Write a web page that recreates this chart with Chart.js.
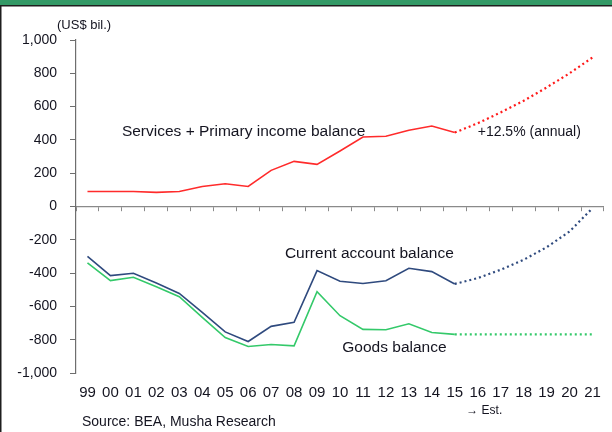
<!DOCTYPE html>
<html>
<head>
<meta charset="utf-8">
<script src="https://cdn.jsdelivr.net/npm/chart.js@4/dist/chart.umd.min.js"></script>
<style>
html,body{margin:0;padding:0;background:#fff;}
canvas{display:block;}
</style>
</head>
<body>
<canvas id="c" width="612" height="432"></canvas>
<script>
// ---- data ----
const categories = ['99','00','01','02','03','04','05','06','07','08','09','10','11','12','13','14','15','16','17','18','19','20','21'];
const servicesActual = [90,90,90,85,90,120,137,120,217,271,253,333,417,422,458,483,444];
const servicesEst = [444,500,565,635,715,800,895];
const currentActual = [-299,-415,-401,-460,-522,-636,-753,-811,-720,-696,-385,-449,-462,-446,-371,-391,-465];
const currentEst = [-465,-430,-380,-320,-245,-150,-10];
const goodsActual = [-339,-445,-425,-482,-542,-666,-787,-841,-829,-837,-512,-656,-738,-740,-704,-757,-768];
const goodsEst = [-768,-768,-768,-768,-768,-768,-768];
const yTicks = [-1000,-800,-600,-400,-200,0,200,400,600,800,1000];

const FONT = '"Liberation Sans", Arial, sans-serif';
const TXT = '#141420';

function padActual(a){ return a.concat(new Array(categories.length - a.length).fill(null)); }
function padEst(a){ return new Array(categories.length - a.length).fill(null).concat(a); }

const RED = '#ff2b2b', BLUE = '#2f4a7e', GREEN = '#34c96a';

const annotations = {
  id: 'annotations',
  beforeDraw(chart){
    const ctx = chart.ctx;
    ctx.save();
    ctx.fillStyle = '#fff';
    ctx.fillRect(0,0,chart.width,chart.height);
    ctx.restore();
  },
  afterDraw(chart){
    const ctx = chart.ctx, xs = chart.scales.x, ys = chart.scales.y;
    ctx.save();
    // header band and frame
    ctx.fillStyle = '#339966';
    ctx.fillRect(0,0,chart.width,5);
    ctx.fillStyle = '#1e1e1e';
    ctx.fillRect(0,5,chart.width,1.5);
    ctx.fillRect(0,5,1.5,chart.height-5);

    ctx.fillStyle = TXT;
    ctx.textBaseline = 'middle';
    ctx.textAlign = 'left';
    ctx.font = '15.5px ' + FONT;
    ctx.fillText('Services + Primary income balance', xs.getPixelForValue(1.5), ys.getPixelForValue(450));
    ctx.fillText('Current account balance', xs.getPixelForValue(8.6), ys.getPixelForValue(-282));
    ctx.fillText('Goods balance', xs.getPixelForValue(11.1), ys.getPixelForValue(-847));
    ctx.font = '14px ' + FONT;
    ctx.fillText('+12.5% (annual)', xs.getPixelForValue(17.0), ys.getPixelForValue(446));

    ctx.font = '13px ' + FONT;
    ctx.fillText('(US$ bil.)', 57, 25);
    ctx.font = '12px ' + FONT;
    ctx.fillText('\u2192 Est.', xs.getPixelForValue(16.5), chart.chartArea.bottom + 38);
    ctx.font = '14px ' + FONT;
    ctx.fillText('Source: BEA, Musha Research', 82, 422);
    ctx.restore();
  }
};

const solid = (label, data, color) => ({
  label, data, borderColor: color, backgroundColor: color,
  borderWidth: 1.6, pointRadius: 0, tension: 0, spanGaps: false, xAxisID: 'x', yAxisID: 'y'
});
const dotted = (label, data, color) => ({
  label, data, borderColor: color, backgroundColor: color,
  borderWidth: 2.2, borderDash: [2,3], borderCapStyle: 'butt',
  pointRadius: 0, tension: 0, spanGaps: false, xAxisID: 'x', yAxisID: 'y'
});

new Chart(document.getElementById('c'), {
  type: 'line',
  data: {
    labels: categories,
    datasets: [
      solid('Services + Primary income balance', padActual(servicesActual), RED),
      dotted('Services + Primary income balance (est.)', padEst(servicesEst), '#ff1a1a'),
      solid('Current account balance', padActual(currentActual), BLUE),
      dotted('Current account balance (est.)', padEst(currentEst), BLUE),
      solid('Goods balance', padActual(goodsActual), GREEN),
      dotted('Goods balance (est.)', padEst(goodsEst), GREEN)
    ]
  },
  options: {
    responsive: false,
    animation: false,
    devicePixelRatio: 1,
    layout: { padding: { top: 40, right: 7, bottom: 0, left: 0 } },
    plugins: { legend: { display: false }, tooltip: { enabled: false }, title: { display: false } },
    scales: {
      x: {
        type: 'category',
        position: 'bottom',
        offset: true,
        grid: { display: false, drawTicks: false },
        border: { display: false },
        ticks: { color: TXT, font: { family: FONT, size: 15 }, padding: 11, maxRotation: 0, autoSkip: false },
        afterFit(s){ s.height = 59; }
      },
      x0: {
        type: 'category',
        labels: categories,
        position: { y: 0 },
        offset: true,
        grid: { offset: true, drawOnChartArea: false, drawTicks: true, tickLength: 4, color: '#8a8a8a', lineWidth: 1 },
        border: { display: true, color: '#8a8a8a', width: 1.2 },
        ticks: { display: false, autoSkip: false }
      },
      y: {
        min: -1000, max: 1000,
        afterBuildTicks(s){ s.ticks = yTicks.map(v => ({ value: v })); },
        grid: { drawOnChartArea: false, drawTicks: true, tickLength: 6, color: '#6e6e6e' },
        border: { display: true, color: '#6e6e6e', width: 1.2 },
        ticks: {
          color: TXT, font: { family: FONT, size: 14 }, padding: 13,
          callback: v => v.toLocaleString('en-US')
        },
        afterFit(s){ s.width = 76; }
      }
    }
  },
  plugins: [annotations]
});
</script>
</body>
</html>
